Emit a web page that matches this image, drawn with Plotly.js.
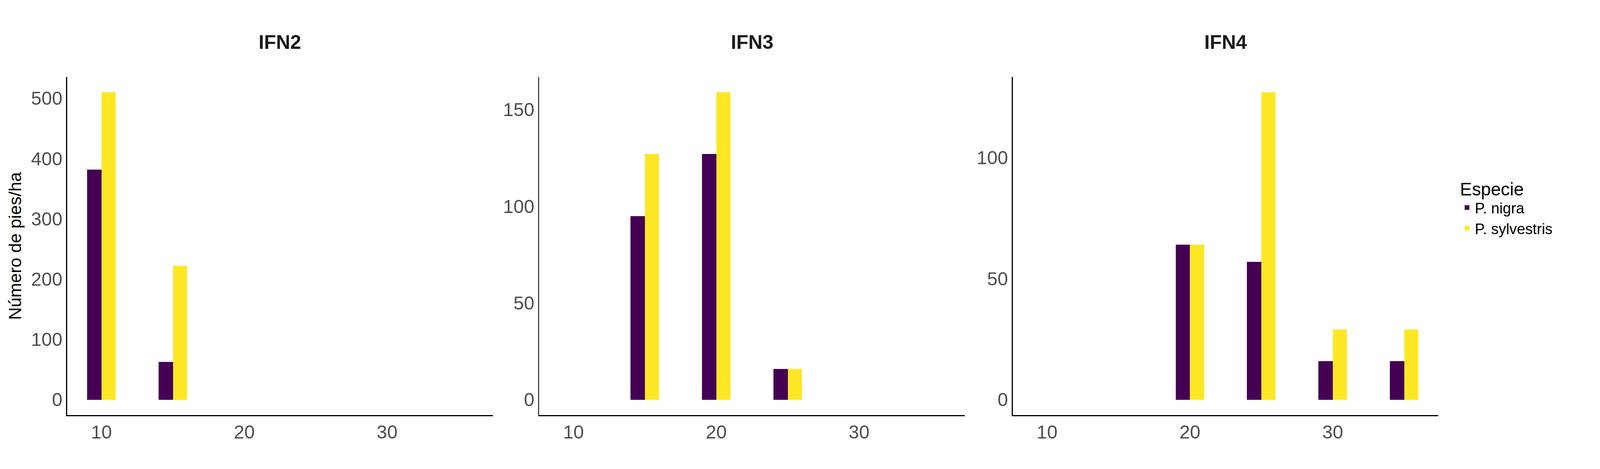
<!DOCTYPE html>
<html><head><meta charset="utf-8">
<script src="https://cdn.plot.ly/plotly-3.0.1.min.js"></script>
<style>html,body{margin:0;padding:0;overflow:hidden}</style>
</head><body>
<div id="chart" style="width:100vw;height:100vh"></div>
<script>
// diameter classes (cm) per inventory
const ifn2X = [10, 15];
const ifn2Nigra = [382, 63];
const ifn2Sylv = [510, 222];
const ifn3X = [15, 20, 25];
const ifn3Nigra = [95, 127, 16];
const ifn3Sylv = [127, 159, 16];
const ifn4X = [20, 25, 30, 35];
const ifn4Nigra = [64, 57, 16, 16];
const ifn4Sylv = [64, 127, 29, 29];

const W = window.innerWidth || 7500, H = window.innerHeight || 1200;
const k = Math.min(W / 7500, H / 1200);

const purple = '#440154', yellow = '#FDE725';
const panels = [
  {x: ifn2X, n: ifn2Nigra, s: ifn2Sylv},
  {x: ifn3X, n: ifn3Nigra, s: ifn3Sylv},
  {x: ifn4X, n: ifn4Nigra, s: ifn4Sylv}
];
const data = [];
panels.forEach((p, i) => {
  const sfx = i === 0 ? '' : String(i + 1);
  data.push({x: p.x, y: p.n, type: 'bar', name: 'P. nigra', marker: {color: purple},
    xaxis: 'x' + sfx, yaxis: 'y' + sfx, showlegend: i === 0, legendgroup: 'n', width: 1, offset: -1});
  data.push({x: p.x, y: p.s, type: 'bar', name: 'P. sylvestris', marker: {color: yellow},
    xaxis: 'x' + sfx, yaxis: 'y' + sfx, showlegend: i === 0, legendgroup: 's', width: 1, offset: 0});
});

const tickFont = {family: '"Liberation Sans Narrow", "Liberation Sans", Arial', size: 88 * k, color: '#4D4D4D'};
function xax(dom) {
  return {domain: dom, range: [7.6, 37.4], tickvals: [10, 20, 30], showgrid: false, zeroline: false,
    showline: true, linecolor: '#000', linewidth: Math.max(1, 5 * k), ticks: '', tickfont: tickFont};
}
function yax(anchor, range, tv) {
  return {anchor: anchor, domain: [0.115, 0.836], range: range, tickvals: tv, showgrid: false, zeroline: false,
    showline: true, linecolor: '#000', linewidth: Math.max(1, 5 * k), ticks: '', tickfont: tickFont};
}
const doms = [[0.042, 0.308], [0.337, 0.603], [0.633, 0.899]];
const titleFont = {family: '"Liberation Sans Narrow", "Liberation Sans", Arial', size: 92 * k, color: '#1A1A1A', weight: 'bold'};
const layout = {
  width: W, height: H, paper_bgcolor: '#fff', plot_bgcolor: '#fff',
  margin: {l: 0, r: 0, t: 0, b: 0}, barmode: 'overlay', bargap: 0,
  xaxis: xax(doms[0]), xaxis2: xax(doms[1]), xaxis3: xax(doms[2]),
  yaxis: Object.assign(yax('x', [-25.5, 535.5], [0, 100, 200, 300, 400, 500]),
    {title: {text: 'Número de pies/ha', font: {family: 'Liberation Sans, Arial', size: 82 * k, color: '#000'}, standoff: 20 * k}}),
  yaxis2: yax('x2', [-7.95, 166.95], [0, 50, 100, 150]),
  yaxis3: yax('x3', [-6.35, 133.35], [0, 50, 100]),
  annotations: ['IFN2', 'IFN3', 'IFN4'].map((t, i) => ({
    text: '<b>' + t + '</b>', x: (doms[i][0] + doms[i][1]) / 2, y: 0.91, xref: 'paper', yref: 'paper',
    showarrow: false, font: titleFont, xanchor: 'center', yanchor: 'middle'})),
  legend: {x: 0.912, y: 0.56, xanchor: 'left', yanchor: 'middle', tracegroupgap: 0,
    title: {text: 'Especie', font: {family: 'Liberation Sans, Arial', size: 84 * k, color: '#000'}},
    font: {family: 'Liberation Sans, Arial', size: 70 * k, color: '#000'}}
};
Plotly.newPlot('chart', data, layout, {staticPlot: true});
</script>
</body></html>
